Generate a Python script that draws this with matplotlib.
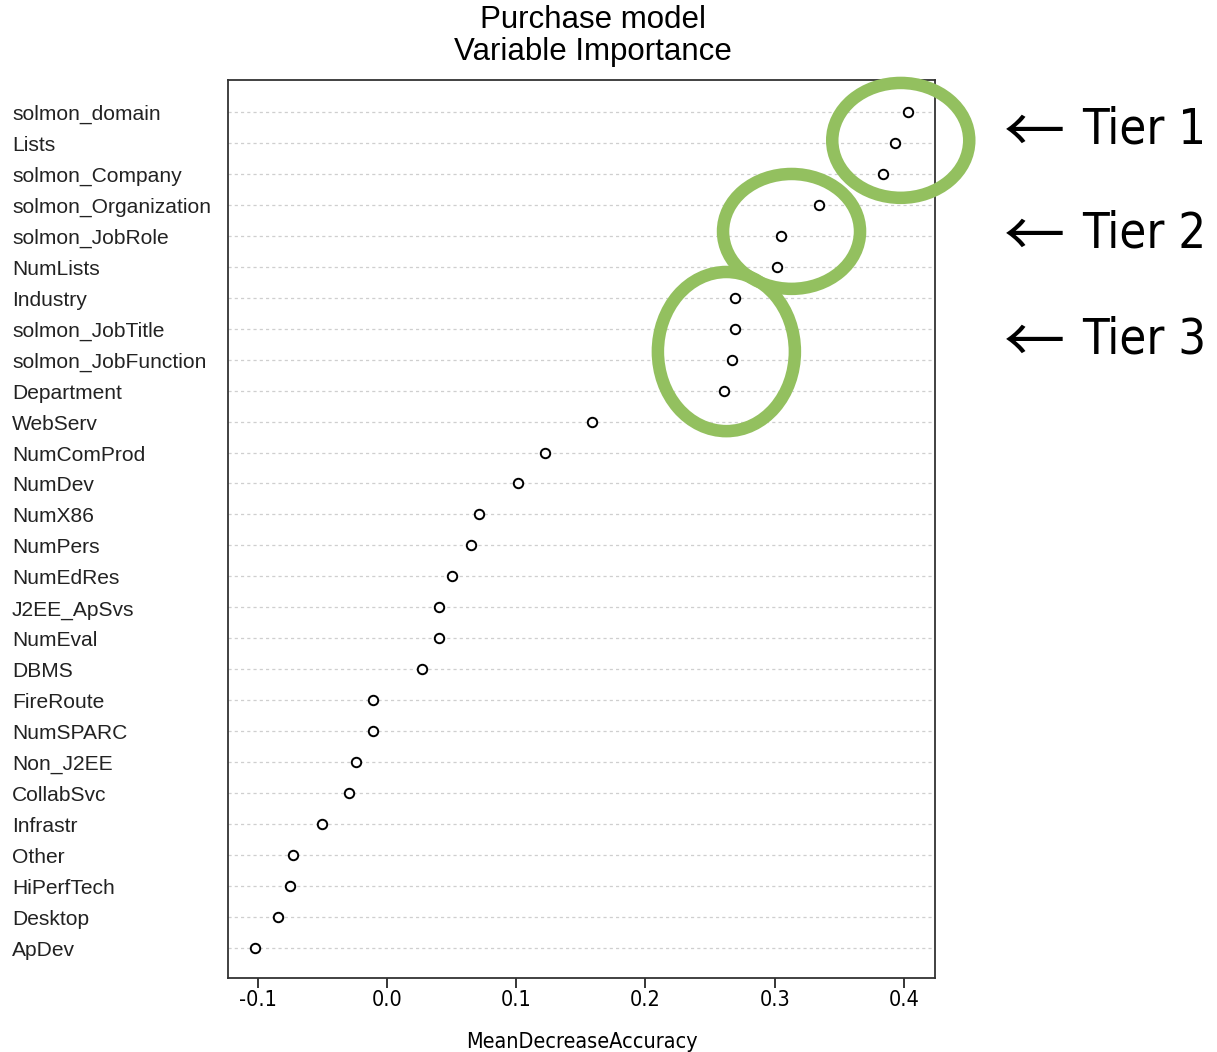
import matplotlib
matplotlib.use("Agg")
import matplotlib.pyplot as plt
from matplotlib.patches import Ellipse
from matplotlib import font_manager as fm
import os

variables = ["solmon_domain", "Lists", "solmon_Company", "solmon_Organization",
             "solmon_JobRole", "NumLists", "Industry", "solmon_JobTitle",
             "solmon_JobFunction", "Department", "WebServ", "NumComProd",
             "NumDev", "NumX86", "NumPers", "NumEdRes", "J2EE_ApSvs", "NumEval",
             "DBMS", "FireRoute", "NumSPARC", "Non_J2EE", "CollabSvc", "Infrastr",
             "Other", "HiPerfTech", "Desktop", "ApDev"]
importance = [0.403, 0.393, 0.384, 0.334, 0.305, 0.302, 0.269, 0.269, 0.267,
              0.261, 0.159, 0.122, 0.101, 0.071, 0.065, 0.050, 0.040, 0.040,
              0.027, -0.011, -0.011, -0.024, -0.029, -0.050, -0.073, -0.075,
              -0.084, -0.102]
xticks = [-0.1, 0.0, 0.1, 0.2, 0.3, 0.4]
xtick_labels = ["-0.1", "0.0", "0.1", "0.2", "0.3", "0.4"]
tiers = ["Tier 1", "Tier 2", "Tier 3"]
# ellipse centres (x value, row position), widths, heights in data units
tier_cx = [0.3975, 0.313, 0.2626]
tier_cy = [27.08, 24.14, 20.26]
tier_w = [0.106, 0.106, 0.106]
tier_h = [3.71, 3.71, 5.14]


def find_narrow():
    fonts = fm.fontManager.ttflist
    def plain(f):
        b = os.path.basename(f.fname).lower()
        return not any(k in b for k in ("bold", "italic", "oblique", "light",
                                           "thin", "black", "medium", "semi",
                                           "extra", "ultra"))
    for key in ("liberationsansnarrow", "arialnarrow"):
        for f in fonts:
            b = os.path.basename(f.fname).lower().replace("-", "").replace("_", "")
            if b.startswith(key) and plain(f):
                return f.fname
    for f in fonts:
        b = os.path.basename(f.fname).lower()
        if ("narrow" in b or "condensed" in b) and plain(f):
            return f.fname
    for f in fonts:
        if f.stretch in ("condensed", "semi-condensed", "extra-condensed") and plain(f):
            return f.fname
    return None


nf = find_narrow()
if nf:
    def narrow(size):
        return fm.FontProperties(fname=nf, size=size)
else:
    def narrow(size):
        return fm.FontProperties(family="Liberation Sans", size=size * 0.85)

regular = "Liberation Sans"

W, H = 1217, 1052
fig = plt.figure(figsize=(W / 100, H / 100), dpi=100)
ax = fig.add_axes([228 / W, 1 - 978 / H, (935 - 228) / W, (978 - 80) / H])

n = len(variables)
ypos = list(range(n, 0, -1))
for y in ypos:
    ax.axhline(y, color="#cfcfcf", lw=0.9, ls=(0, (2.5, 2.5)), zorder=1)
ax.plot(importance, ypos, ls="none", marker="o", ms=6.8, mfc="white",
        mec="black", mew=1.4, zorder=3)

ax.set_xlim(-0.123, 0.424)
ax.set_ylim(0.03, 29.03)
ax.set_yticks([])
ax.set_xticks(xticks)
ax.set_xticklabels(xtick_labels)
for lab in ax.get_xticklabels():
    lab.set_fontproperties(narrow(15.5))
ax.tick_params(axis="x", direction="out", length=7, width=1.1, pad=1.5)
for s in ax.spines.values():
    s.set_linewidth(1.3)
    s.set_color("#333333")
ax.set_xlabel("MeanDecreaseAccuracy", fontproperties=narrow(15.5), labelpad=16)

for y, name in zip(ypos, variables):
    ypix = ax.transData.transform((0, y))[1]
    ax.text(12, ypix - 8, name, transform=None,
            fontsize=15.1, family=regular, color="#222222", va="baseline", ha="left")

fig.text(593 / W, 1 - 36 / H, "Purchase model\nVariable Importance",
         ha="center", va="center", fontsize=22.5, family=regular, linespacing=1.12)

for cx, cy, w, h in zip(tier_cx, tier_cy, tier_w, tier_h):
    ax.add_patch(Ellipse((cx, cy), w, h, fill=False, ec="#93c05f", lw=9,
                         clip_on=False, zorder=4))

tier_text_y = [130, 234, 340]
for txt, ty in zip(tiers, tier_text_y):
    fig.text(1004 / W, 1 - (ty + 5) / H, "\u2190", ha="left", va="center",
             fontsize=44, family=["Noto Sans CJK JP", "DejaVu Sans"], color="black")
    fig.text(1082 / W, 1 - ty / H, txt, ha="left", va="center",
             fontproperties=narrow(35), color="black")

fig.savefig("out.png", dpi=100)
